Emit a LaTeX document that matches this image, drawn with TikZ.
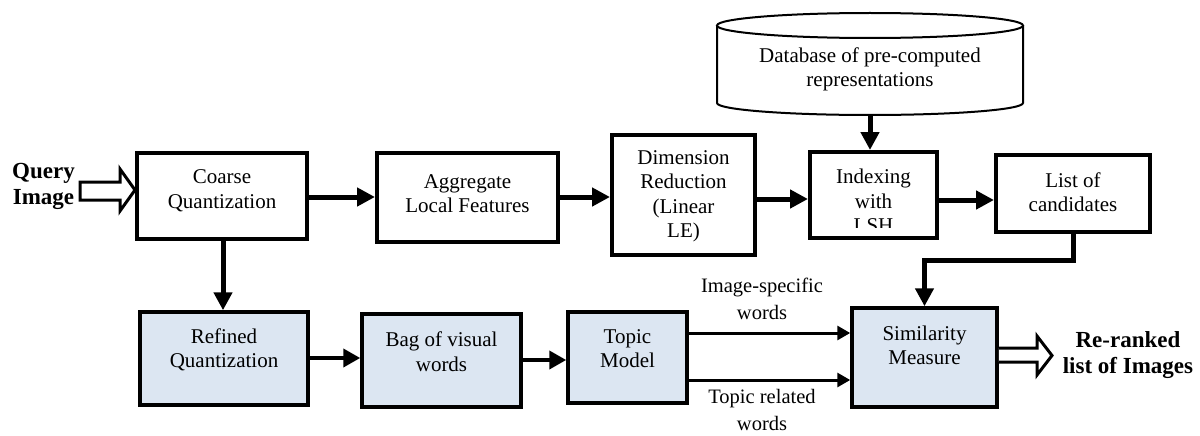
\documentclass[tikz,border=0pt]{standalone}
\usepackage{fontspec}
\setmainfont{Liberation Serif}
\usetikzlibrary{arrows.meta}
\definecolor{boxblue}{RGB}{220,230,242}
\tikzset{
  box/.style={draw=black, line width=4pt, inner sep=0pt, fill=white},
  bbox/.style={draw=black, line width=3.5pt, inner sep=0pt, fill=boxblue},
  txt/.style={align=center, inner sep=0pt, font=\fontsize{21}{24.5}\selectfont},
  btxt/.style={align=center, inner sep=0pt, font=\fontsize{23}{26.5}\selectfont\bfseries},
  arr/.style={line width=5pt, -{Triangle[length=18pt,width=18pt]}},
  arrb/.style={line width=4pt, -{Triangle[length=17pt,width=18pt]}},
  arrc/.style={line width=3pt, -{Triangle[length=13pt,width=14pt]}},
  hollow/.style={draw=black, line width=3pt, fill=white, line join=miter},
  cyl/.style={draw=black, line width=2pt}
}
\begin{document}
\begin{tikzpicture}[x=1pt,y=-1pt]
\useasboundingbox (0,0) rectangle (1200,436);

% top row boxes
\node[box, minimum width=170pt, minimum height=86pt] (coarse) at (222,196) {};
\node[txt] (coarset) at (222,190.5) {Coarse\\Quantization};
\node[box, minimum width=181pt, minimum height=89pt] (aggr) at (467.5,197.5) {};
\node[txt] (aggrt) at (467.5,193.5) {Aggregate\\Local Features};
\node[box, minimum width=143pt, minimum height=120pt] (dim) at (683.5,195) {};
\node[txt] (dimt) at (683.5,196.5) {Dimension\\Reduction\\(Linear\\LE)};
\node[box, minimum width=127pt, minimum height=86pt] (idx) at (873.5,195) {};
\begin{scope}
  \clip (812,154) rectangle (935,227);
  \node[txt] (idxt) at (873.5,201) {Indexing\\with\\LSH};
\end{scope}
\node[box, minimum width=154pt, minimum height=77pt] (list) at (1073,193.5) {};
\node[txt] (listt) at (1073,192) {List of\\candidates};

% database cylinder
\draw[cyl, fill=white] (717,25.5) -- (717,103) arc[start angle=180, end angle=0, x radius=153, y radius=12] -- (1023,25.5);
\draw[cyl] (870,25.5) ellipse [x radius=153, y radius=12.5];
\node[txt] (db) at (870,69.5) {Database of pre-computed\\representations};
\coordinate (dbbot) at (870,115);

% bottom row boxes
\node[bbox, minimum width=168pt, minimum height=93pt] (ref) at (224,358.5) {};
\node[txt] (reft) at (224,350) {Refined\\Quantization};
\node[bbox, minimum width=159pt, minimum height=93pt] (bag) at (441.5,360.5) {};
\node[txt] (bagt) at (441.5,351.5) {Bag of visual\\words};
\node[bbox, minimum width=119pt, minimum height=91pt] (topic) at (627.5,357.5) {};
\node[txt] (topict) at (627.5,348.5) {Topic\\Model};
\node[bbox, minimum width=145pt, minimum height=99pt] (sim) at (924.5,357.5) {};
\node[txt] (simt) at (924.5,345.5) {Similarity\\Measure};

% side labels
\node[btxt] (query) at (43.5,186.5) {Query\\Image};
\node[btxt] (rerank) at (1128,355) {Re-ranked\\list of Images};
\node[txt, font=\fontsize{20.5}{27}\selectfont] (isw) at (762,299) {Image-specific\\words};
\node[txt, font=\fontsize{20.5}{27}\selectfont] (trw) at (762,410) {Topic related\\words};

% hollow arrows
\draw[hollow] (80,182) -- (120,182) -- (120,169) -- (coarse.west |- 0,190) -- (120,211) -- (120,200) -- (80,200) -- cycle;
\draw[hollow] (sim.east |- 0,348) -- (1037,348) -- (1037,336) -- (1052,355.5) -- (1037,375) -- (1037,362) -- (sim.east |- 0,362);

% connectors
\draw[arr] (coarse.east |- 0,197) -- (aggr.west |- 0,197);
\draw[arr] (aggr.east |- 0,197) -- (dim.west |- 0,197);
\draw[arr] (dim.east |- 0,199) -- (idx.west |- 0,199);
\draw[arr] (idx.east |- 0,200) -- (list.west |- 0,200);
\draw[arr] (dbbot) -- (dbbot |- idx.north);
\draw[arr] (coarse.south -| 223,0) -- (ref.north -| 223,0);
\coordinate (bend) at (sim.north |- 0,260);
\draw[arr, line join=miter] (list.south) |- (bend) -- (sim.north);
\draw[arrb] (ref.east |- 0,358) -- (bag.west |- 0,358);
\draw[arrb] (bag.east |- 0,360) -- (topic.west |- 0,360);
\draw[arrc] (topic.east |- 0,333) -- (sim.west |- 0,333);
\draw[arrc] (topic.east |- 0,380) -- (sim.west |- 0,380);
\end{tikzpicture}
\end{document}
